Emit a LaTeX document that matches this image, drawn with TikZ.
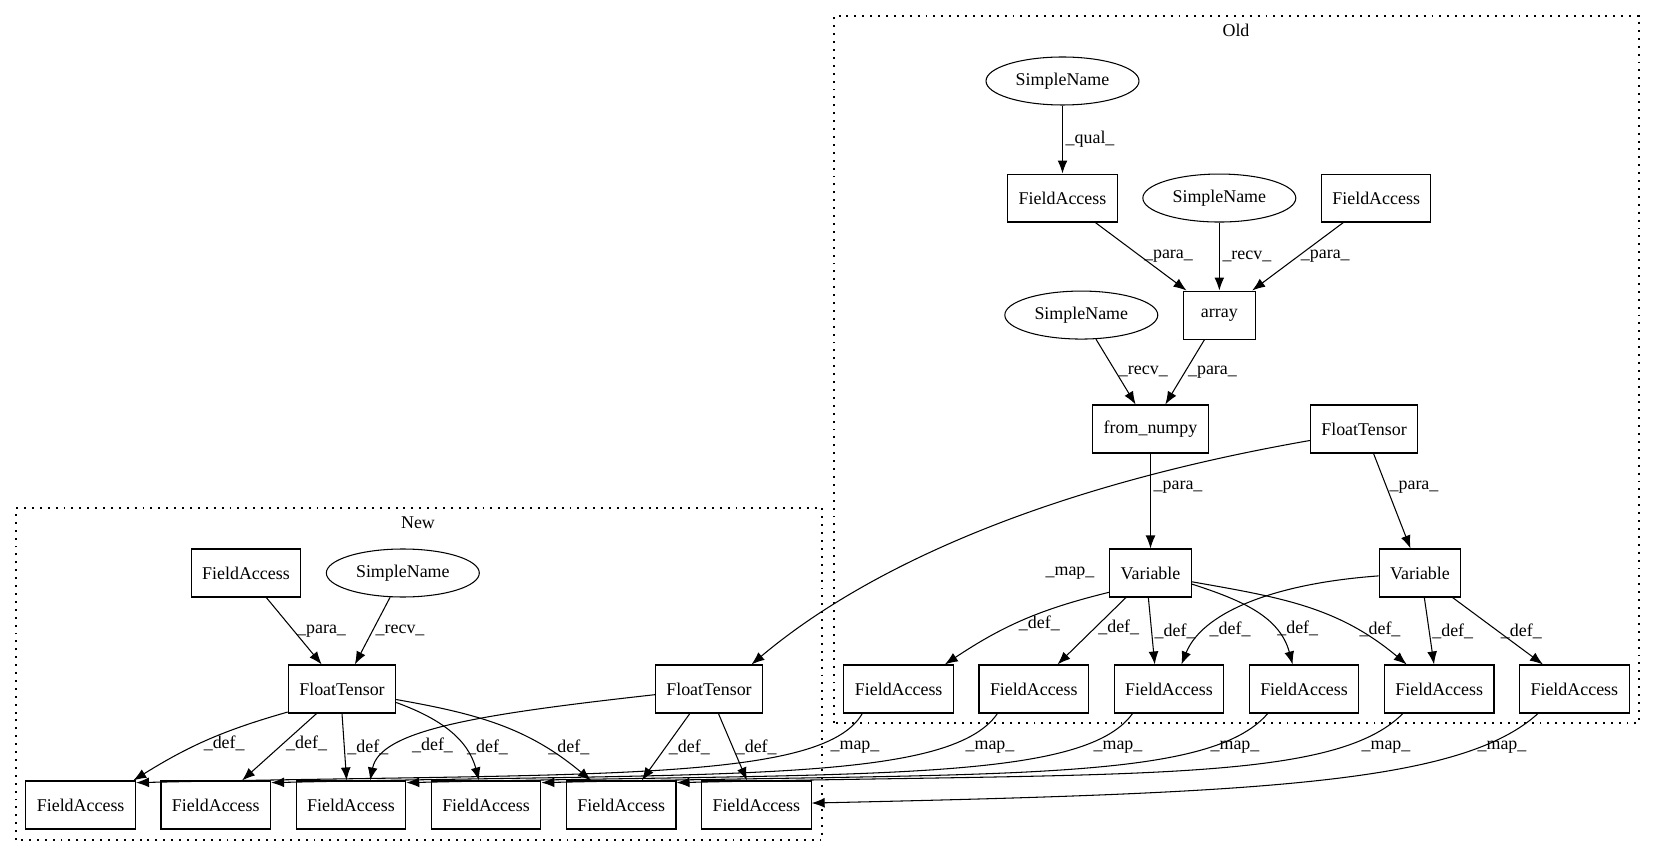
\documentclass[tikz,border=0pt]{standalone}
\usepackage{fontspec}
\setmainfont{Liberation Serif}
\usetikzlibrary{
    matrix,
    positioning,
    shapes.geometric,
    arrows.meta
}
\def\hsep{0.49cm}
\def\vsep{1.36cm}
\tikzset{
    base/.style={
        draw,
        line width=0.6pt,
        minimum height = 0.96cm,
        minimum width  = 1.44cm,
        inner xsep=0.22cm,
    },
    oval/.style={
        ellipse,
        draw,
        line width=0.6pt,
        minimum height = 0.96cm,
        minimum width  = 3.06cm,
        inner sep=0pt,
    },
    fieldrow/.style = {
        matrix of nodes,
        column sep = \hsep,
        inner sep = 0pt,
        nodes = base
    },
    link/.style = {
        -{Latex[length=7.4pt, width=5.6pt]},
        line width=0.6pt
    },
    lbl/.style = {inner sep=1.5pt},
    cluster/.style = {
        line width=0.7pt,
        dash pattern=on 1.1pt off 3.4pt
    },
}

\begin{document}
\begin{tikzpicture}[x=0.02cm, y=0.02cm, font=\fontsize{10.2pt}{12pt}\selectfont]
        \useasboundingbox (0,0) rectangle (1656,856);

        % clusters
        \draw [cluster] (834,133) rectangle (1639,840);
        \node (oldlbl) at (1236,826) {Old};
        \draw [cluster] (16,16) rectangle (822,348);
        \node (newlbl) at (418,333) {New};

        % old
        \node (osn1) [oval] at (1062.5,775) {SimpleName};
        \node (ofa1) [base, below=\vsep of osn1] {FieldAccess};
        \node (osn2) [oval, right=\hsep of ofa1] {SimpleName};
        \node (ofa2) [base, right=\hsep of osn2] {FieldAccess};
        \node (oarr) [base, below=\vsep of osn2] {array};
        \node (osn3) [oval, left=\hsep of oarr] {SimpleName};
        \node (onp) [base] at (1150.5,427) {from\_numpy};
        \node (oft) [base] at (1364,427) {FloatTensor};
        \node (ov1) [base] at (1150.5,283) {Variable};
        \node (ov2) [base] at (1420,283) {Variable};
        \matrix (oldrow) [fieldrow] at (1236.5,167) {
            FieldAccess & FieldAccess & FieldAccess & FieldAccess & FieldAccess & FieldAccess \\
        };

        % new
        \node (nfa) [base] at (246,283) {FieldAccess};
        \node (nsn) [oval, right=\hsep of nfa] {SimpleName};
        \node (nft1) [base] at (342,167) {FloatTensor};
        \node (nft2) [base] at (709,167) {FloatTensor};
        \matrix (newrow) [fieldrow] at (418.5,51) {
            FieldAccess & FieldAccess & FieldAccess & FieldAccess & FieldAccess & FieldAccess \\
        };

        \draw [link] (osn1) -- node[lbl, right] {\_qual\_} (ofa1);
        \draw [link] (ofa1) -- node[lbl, right] {\_para\_} (oarr);
        \draw [link] (osn2) -- node[lbl, right] {\_recv\_} (oarr);
        \draw [link] (ofa2) -- node[lbl, right] {\_para\_} (oarr);
        \draw [link] (osn3) -- node[lbl, right] {\_recv\_} (onp);
        \draw [link] (oarr) -- node[lbl, right] {\_para\_} (onp);
        \draw [link] (onp) -- node[lbl, right, pos=0.35] {\_para\_} (ov1);
        \draw [link] (oft) -- node[lbl, right, pos=0.35] {\_para\_} (ov2);
        \draw [link] (oft.192) .. controls +(-309,-54) and +(89,75) .. (nft2.30);
        \node [lbl] (omap) at (1070,283) {\_map\_};

        \draw [link] (ov1.-155) to[bend right=10] node[lbl, right, pos=0.55] {\_def\_} (oldrow-1-1.28);
        \draw [link] (ov1.-135) -- node[lbl, right, pos=0.45] {\_def\_} (oldrow-1-2.46);
        \draw [link] (ov1.-95) -- node[lbl, right] {\_def\_} (oldrow-1-3.120);
        \draw [link] (ov2.184) .. controls +(-110,-8) and +(20,50) .. (oldrow-1-3.63) node[lbl, right, pos=0.74] {\_def\_};
        \draw [link] (ov1.-15) to[out=-18, in=105] node[lbl, right, pos=0.7] {\_def\_} (oldrow-1-4.115);
        \draw [link] (ov1.-12) to[out=-10, in=140] node[lbl, right, pos=0.75] {\_def\_} (oldrow-1-5.143);
        \draw [link] (ov2.-80) -- node[lbl, right] {\_def\_} (oldrow-1-5.102);
        \draw [link] (ov2.-37) -- node[lbl, right] {\_def\_} (oldrow-1-6.142);

        \draw [link] (nfa) -- node[lbl, right] {\_para\_} (nft1);
        \draw [link] (nsn) -- node[lbl, right] {\_recv\_} (nft1);
        \draw [link] (nft1.-157) to[bend right=8] node[lbl, right, pos=0.55] {\_def\_} (newrow-1-1.25);
        \draw [link] (nft1.-136) -- node[lbl, right, pos=0.45] {\_def\_} (newrow-1-2.43);
        \draw [link] (nft1.-90) -- node[lbl, right] {\_def\_} (newrow-1-3.100);
        \draw [link] (nft2.186) .. controls +(-180,-20) and +(10,50) .. (newrow-1-3.52) node[lbl, right, pos=0.72, xshift=6pt] {\_def\_};
        \draw [link] (nft1.-14) to[out=-20, in=105] node[lbl, right, pos=0.7] {\_def\_} (newrow-1-4.106);
        \draw [link] (nft1.-11) to[out=-10, in=140] node[lbl, right, pos=0.75] {\_def\_} (newrow-1-5.141);
        \draw [link] (nft2.-128) -- node[lbl, right] {\_def\_} (newrow-1-5.50);
        \draw [link] (nft2.-69) -- node[lbl, right] {\_def\_} (newrow-1-6.111);

        \foreach \i/\sx/\ea/\lx in {1/40/22/855, 2/48/22/990, 3/50/22/1118, 4/60/22/1235, 5/69/22/1386, 6/77/2/1502}{
            \draw [link] (oldrow-1-\i.-146) .. controls +(-\sx,-70) and +(450,10) .. (newrow-1-\i.\ea);
            \node [lbl] (map\i) at (\lx,109) {\_map\_};
        }

    \end{tikzpicture}
\end{document}
